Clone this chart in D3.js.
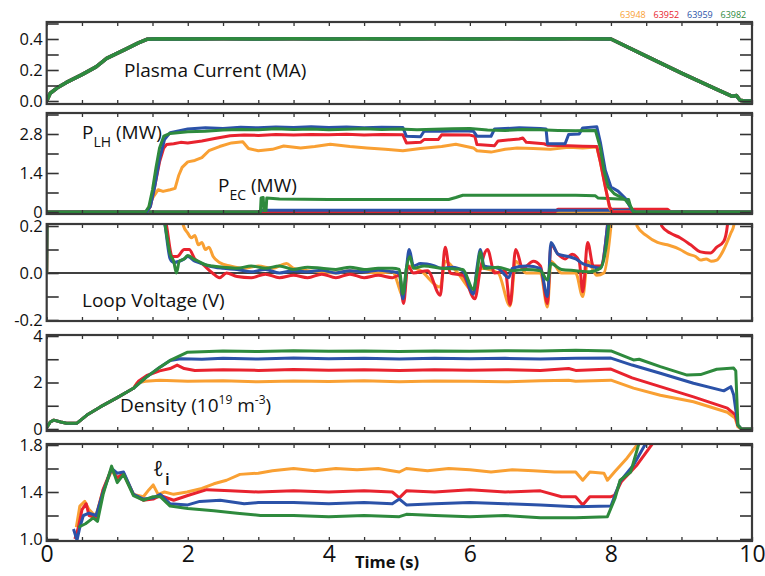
<!DOCTYPE html>
<meta charset="utf-8">
<style>
  body { margin: 0; background: #fff; }
  svg text { font-family: "Open Sans", "DejaVu Sans", sans-serif; fill: #111; }
</style>
<svg width="765" height="576"></svg>
<script src="https://d3js.org/d3.v7.min.js"></script>
<script>
// shots shown in the legend (top right)
const shots = ["63948", "63952", "63959", "63982"]

// plasma current (MA) - all four shots lie on top of each other
const ipAll = [[0,0],[0.05,0.05],[0.15,0.085],[0.28,0.12],[0.5,0.17],[0.7,0.22],[0.85,0.275],[1.1,0.33],[1.3,0.375],[1.42,0.398],[1.6,0.401],[2,0.4],[2.5,0.402],[3,0.4],[3.5,0.401],[4,0.4],[4.5,0.401],[5,0.4],[5.5,0.402],[6,0.4],[6.5,0.401],[7,0.4],[7.5,0.401],[8,0.4],[8.5,0.29],[9,0.18],[9.5,0.075],[9.72,0.03],[9.78,0.035],[9.83,0.005],[9.9,0],[10,0]]

// P_LH (MW)
const plh63948 = [[0,0],[1.42,0],[1.5,0.5],[1.58,0.8],[1.65,0.74],[1.75,0.8],[1.82,0.85],[1.87,1.3],[1.92,1.6],[2.0,1.8],[2.1,1.85],[2.2,1.95],[2.3,2.2],[2.45,2.35],[2.62,2.48],[2.78,2.52],[2.86,2.28],[3.0,2.2],[3.2,2.25],[3.36,2.37],[3.6,2.3],[3.8,2.35],[4.02,2.43],[4.3,2.35],[4.54,2.3],[4.8,2.25],[5.05,2.2],[5.3,2.28],[5.6,2.35],[5.8,2.43],[6.05,2.3],[6.1,2.2],[6.3,2.15],[6.5,2.25],[6.67,2.3],[6.9,2.28],[7.14,2.25],[7.4,2.32],[7.6,2.3],[7.8,2.33],[7.85,1.8],[7.93,0.8],[7.98,0.15],[8.02,0],[10,0]]
const plh63952 = [[0,0],[1.42,0],[1.47,0.2],[1.53,0.9],[1.6,1.8],[1.66,2.3],[1.7,2.42],[1.8,2.45],[1.9,2.5],[2.0,2.48],[2.2,2.55],[2.4,2.65],[2.6,2.74],[2.8,2.76],[3.0,2.75],[3.25,2.78],[3.5,2.76],[3.75,2.78],[4.0,2.77],[4.25,2.79],[4.5,2.76],[4.75,2.78],[5.05,2.77],[5.1,2.48],[5.3,2.5],[5.35,2.6],[5.55,2.6],[5.6,2.77],[6.0,2.76],[6.07,2.72],[6.1,2.42],[6.35,2.38],[6.4,2.55],[6.7,2.62],[6.75,2.66],[6.8,2.5],[7.05,2.45],[7.1,2.4],[7.4,2.38],[7.6,2.36],[7.8,2.35],[7.85,1.8],[7.92,0.9],[7.98,0.2],[8.02,0],[10,0]]
const plh63959 = [[0,0],[1.42,0],[1.47,0.2],[1.53,0.9],[1.6,1.9],[1.67,2.6],[1.75,2.85],[2.0,2.98],[2.25,3.02],[2.5,3.0],[2.75,3.04],[3.0,3.02],[3.25,3.05],[3.5,3.03],[3.75,3.06],[4.0,3.03],[4.25,3.05],[4.5,3.02],[4.75,3.04],[5.05,3.03],[5.1,2.72],[5.3,2.7],[5.35,2.9],[5.6,2.9],[5.9,2.92],[6.05,2.9],[6.1,2.72],[6.3,2.72],[6.35,2.98],[6.7,3.02],[7.0,3.0],[7.08,2.98],[7.1,2.45],[7.35,2.45],[7.4,2.78],[7.55,2.8],[7.6,3.02],[7.8,3.06],[7.85,2.5],[7.92,1.5],[8.0,0.9],[8.1,0.75],[8.2,0.5],[8.3,0.05],[8.35,0],[10,0]]
const plh63982 = [[0,0],[1.4,0],[1.45,0.2],[1.5,0.8],[1.55,1.6],[1.6,2.3],[1.66,2.72],[1.75,2.82],[2.0,2.88],[2.25,2.9],[2.5,2.94],[2.75,2.96],[3.0,2.95],[3.25,2.99],[3.5,2.96],[3.75,2.98],[4.0,2.95],[4.25,2.97],[4.5,2.99],[4.75,2.96],[5.0,2.98],[5.25,2.95],[5.5,2.97],[5.75,2.99],[6.0,3.0],[6.25,2.94],[6.5,2.93],[6.75,2.96],[7.0,2.95],[7.25,2.93],[7.5,2.92],[7.78,2.93],[7.85,2.3],[7.9,1.5],[7.96,0.9],[8.05,0.65],[8.2,0.45],[8.28,0.2],[8.32,0],[10,0]]

// P_EC (MW)
const pec63948 = [[0,0],[10,0]]
const pec63952 = [[0,0],[7.2,0],[7.25,0.1],[8.8,0.1],[8.85,0],[10,0]]
const pec63959 = [[0,0],[3.0,0],[3.05,0.06],[8.3,0.06],[8.35,0.02],[10,0.02]]
const pec63982 = [[0,0],[3.03,0],[3.04,0.5],[3.07,0.52],[3.08,0.05],[3.11,0.05],[3.12,0.5],[3.3,0.47],[4,0.45],[5,0.45],[5.7,0.45],[5.8,0.52],[5.9,0.6],[6.5,0.6],[7,0.6],[7.5,0.6],[7.78,0.58],[7.82,0.5],[8.25,0.45],[8.3,0],[10,0]]

// loop voltage (V), values above 0.2 run off the panel
const vl63948 = [[0,0],[0.02,0.6],[1.8,0.6],[1.94,0.2],[2.0,0.17],[2.05,0.15],[2.1,0.16],[2.15,0.12],[2.2,0.13],[2.25,0.1],[2.3,0.11],[2.36,0.07],[2.45,0.045],[2.6,0.03],[2.8,0.02],[3.0,0.03],[3.2,0.02],[3.4,0.04],[3.5,0.02],[3.7,0.01],[3.9,0.005],[4.1,0.0],[4.3,0.01],[4.5,0.005],[4.7,0.0],[4.9,0.005],[5.06,-0.1],[5.12,0.03],[5.3,0.01],[5.58,-0.06],[5.65,0.05],[5.8,0.01],[6.07,-0.08],[6.15,0.02],[6.4,0.0],[6.57,-0.14],[6.65,0.05],[6.8,0.0],[7.0,0.0],[7.1,-0.145],[7.15,0.05],[7.3,0.0],[7.5,0.0],[7.6,-0.1],[7.67,0.05],[7.8,-0.01],[7.9,0.0],[8.0,0.2],[8.1,0.6],[8.3,0.6],[8.37,0.2],[8.5,0.16],[8.66,0.13],[8.8,0.12],[8.98,0.1],[9.1,0.08],[9.2,0.07],[9.27,0.055],[9.35,0.06],[9.42,0.05],[9.5,0.055],[9.6,0.1],[9.7,0.17],[9.74,0.2],[9.8,0.4],[10,0.6]]
const vl63952 = [[0,0],[0.02,0.6],[1.55,0.6],[1.64,0.3],[1.7,0.2],[1.78,0.07],[1.85,0.07],[1.95,0.1],[2.02,0.1],[2.1,0.06],[2.2,0.04],[2.35,0.0],[2.45,-0.02],[2.55,0.0],[2.7,-0.015],[2.9,-0.02],[3.1,-0.005],[3.3,-0.02],[3.5,-0.01],[3.7,-0.02],[3.9,-0.005],[4.1,-0.02],[4.3,-0.005],[4.5,-0.02],[4.7,-0.01],[4.9,-0.02],[5.0,-0.01],[5.06,-0.13],[5.12,0.03],[5.2,0.0],[5.4,0.01],[5.58,-0.095],[5.65,0.11],[5.72,0.0],[5.9,-0.01],[6.07,-0.11],[6.15,0.02],[6.25,0.1],[6.35,0.0],[6.5,0.01],[6.57,-0.135],[6.65,0.1],[6.75,0.02],[6.9,0.05],[7.0,0.03],[7.1,-0.13],[7.15,0.12],[7.25,0.08],[7.35,0.06],[7.45,0.08],[7.55,0.05],[7.6,-0.08],[7.67,0.13],[7.75,0.03],[7.85,0.03],[7.95,0.2],[8.05,0.6],[8.6,0.6],[8.72,0.2],[8.84,0.17],[8.98,0.15],[9.13,0.12],[9.27,0.09],[9.41,0.085],[9.5,0.11],[9.6,0.135],[9.65,0.2],[9.7,0.4],[10,0.6]]
const vl63959 = [[0,0],[0.02,0.6],[1.55,0.6],[1.63,0.3],[1.68,0.2],[1.75,0.06],[1.8,0.045],[1.88,0.05],[1.95,0.06],[2.0,0.07],[2.1,0.05],[2.2,0.04],[2.3,0.03],[2.5,0.02],[2.7,0.015],[2.9,0.005],[3.1,0.015],[3.3,0.0],[3.5,0.01],[3.7,0.005],[3.9,0.012],[4.1,0.0],[4.3,0.01],[4.5,0.005],[4.7,0.012],[4.9,0.005],[5.0,0.0],[5.05,-0.11],[5.1,0.02],[5.14,0.1],[5.2,0.03],[5.3,0.04],[5.5,0.03],[5.6,0.02],[5.75,0.025],[5.9,0.01],[6.05,-0.09],[6.1,0.02],[6.15,0.1],[6.2,0.03],[6.4,0.02],[6.55,-0.02],[6.6,0.02],[6.8,0.03],[7.0,0.02],[7.1,-0.1],[7.15,0.13],[7.25,0.08],[7.4,0.07],[7.5,0.06],[7.6,0.04],[7.7,0.03],[7.85,0.02],[7.95,0.2],[8.05,0.6],[10,0.6]]
const vl63982 = [[0,0],[0.02,0.6],[1.55,0.6],[1.62,0.3],[1.68,0.2],[1.75,0.08],[1.8,0.05],[1.84,0.0],[1.88,0.05],[1.95,0.06],[2.0,0.075],[2.08,0.06],[2.15,0.05],[2.25,0.035],[2.35,0.03],[2.5,0.025],[2.7,0.02],[2.9,0.03],[3.1,0.02],[3.3,0.03],[3.5,0.015],[3.7,0.025],[3.9,0.02],[4.1,0.015],[4.3,0.025],[4.5,0.015],[4.7,0.02],[4.9,0.02],[5.0,0.015],[5.05,-0.09],[5.1,0.02],[5.15,0.07],[5.2,0.02],[5.35,0.03],[5.6,0.02],[5.9,0.015],[6.05,-0.07],[6.1,0.0],[6.15,0.09],[6.2,0.02],[6.4,0.025],[6.6,0.01],[6.8,0.015],[7.0,0.01],[7.1,-0.03],[7.15,0.04],[7.3,0.015],[7.5,0.01],[7.7,0.005],[7.85,0.02],[7.95,0.15],[8.0,0.3],[8.1,0.6],[10,0.6]]

// line-averaged density (10^19 m^-3); shared start-up ramp
const densRamp = [[0,0.05],[0.05,0.3],[0.1,0.38],[0.2,0.3],[0.28,0.25],[0.43,0.25],[0.57,0.6],[0.76,0.95],[1.0,1.35],[1.23,1.75]]
const dens63948 = densRamp.concat([[1.28,1.98],[1.4,2.05],[1.6,2.1],[2.0,2.05],[2.5,2.08],[3.0,2.03],[3.5,2.06],[4.0,2.04],[4.5,2.07],[5.0,2.03],[5.5,2.06],[6.0,2.05],[6.5,2.03],[7.0,2.07],[7.4,2.1],[7.5,2.05],[8.0,2.1],[8.32,1.76],[8.7,1.45],[9.17,1.17],[9.65,0.72],[9.76,0.47],[9.8,0.1],[9.85,0],[10,0]])
const dens63952 = densRamp.concat([[1.3,2.05],[1.42,2.3],[1.6,2.5],[1.75,2.6],[1.85,2.75],[1.95,2.6],[2.1,2.52],[2.5,2.55],[3.0,2.52],[3.5,2.56],[4.0,2.53],[4.5,2.55],[5.0,2.52],[5.5,2.55],[6.0,2.53],[6.5,2.55],[7.0,2.52],[7.4,2.6],[7.5,2.52],[8.0,2.58],[8.3,2.2],[8.7,1.82],[9.17,1.38],[9.65,0.9],[9.76,0.62],[9.8,0.15],[9.85,0],[10,0]])
const dens63959 = densRamp.concat([[1.4,2.2],[1.6,2.65],[1.75,2.95],[1.9,3.02],[2.2,3.0],[2.5,3.04],[3.0,3.01],[3.5,3.05],[4.0,3.02],[4.5,3.04],[5.0,3.01],[5.5,3.04],[6.0,3.02],[6.5,3.04],[7.0,3.01],[7.5,3.04],[8.0,3.05],[8.3,2.75],[8.7,2.4],[9.17,1.97],[9.6,1.64],[9.7,1.82],[9.74,1.47],[9.8,0.17],[9.85,0],[10,0]])
const dens63982 = densRamp.concat([[1.4,2.2],[1.6,2.65],[1.75,2.95],[1.99,3.3],[2.2,3.32],[2.5,3.36],[3.0,3.33],[3.5,3.37],[4.0,3.34],[4.5,3.36],[5.0,3.33],[5.5,3.36],[6.0,3.34],[6.5,3.37],[7.0,3.35],[7.5,3.39],[8.0,3.36],[8.32,2.97],[8.4,3.0],[8.7,2.68],[9.08,2.32],[9.27,2.34],[9.5,2.57],[9.74,2.62],[9.77,2.5],[9.8,0.17],[9.85,0],[10,0]])

// internal inductance li
const li63948 = [[0.42,1.1],[0.47,1.28],[0.54,1.32],[0.6,1.25],[0.65,1.22],[0.7,1.2],[0.8,1.42],[0.92,1.58],[1.0,1.52],[1.09,1.55],[1.23,1.38],[1.37,1.36],[1.45,1.42],[1.51,1.46],[1.58,1.38],[1.67,1.4],[1.8,1.38],[1.99,1.4],[2.2,1.43],[2.37,1.47],[2.55,1.5],[2.74,1.55],[3.0,1.56],[3.2,1.58],[3.5,1.6],[3.8,1.58],[4.1,1.6],[4.4,1.59],[4.7,1.6],[5.0,1.57],[5.1,1.6],[5.4,1.58],[5.7,1.6],[6.0,1.59],[6.3,1.57],[6.6,1.59],[6.9,1.58],[7.2,1.57],[7.5,1.57],[7.6,1.5],[7.7,1.57],[7.9,1.56],[7.95,1.5],[8.05,1.57],[8.23,1.69],[8.37,1.8],[8.6,2.0]]
const li63952 = [[0.4,1.0],[0.45,1.1],[0.5,1.25],[0.56,1.3],[0.6,1.2],[0.7,1.18],[0.8,1.42],[0.92,1.6],[1.0,1.52],[1.09,1.56],[1.23,1.38],[1.37,1.33],[1.51,1.34],[1.61,1.37],[1.8,1.33],[2.0,1.37],[2.27,1.42],[2.6,1.41],[3.0,1.4],[3.5,1.41],[4.0,1.4],[4.5,1.41],[4.9,1.4],[5.0,1.35],[5.1,1.41],[5.5,1.4],[6.0,1.42],[6.5,1.4],[7.0,1.41],[7.3,1.36],[7.5,1.36],[7.6,1.29],[7.7,1.36],[8.0,1.36],[8.05,1.37],[8.15,1.49],[8.37,1.63],[8.6,1.82],[8.8,2.0]]
const li63959 = [[0.38,1.085],[0.43,0.99],[0.47,1.1],[0.52,1.2],[0.6,1.22],[0.7,1.2],[0.8,1.4],[0.92,1.6],[1.0,1.56],[1.09,1.57],[1.23,1.38],[1.37,1.34],[1.51,1.35],[1.61,1.38],[1.75,1.3],[2.0,1.29],[2.17,1.32],[2.46,1.33],[2.8,1.3],[3.0,1.31],[3.5,1.31],[4.0,1.3],[4.5,1.31],[4.9,1.3],[5.0,1.34],[5.1,1.29],[5.5,1.3],[6.0,1.31],[6.5,1.3],[7.0,1.29],[7.5,1.275],[8.0,1.28],[8.13,1.49],[8.32,1.63],[8.5,1.82],[8.7,2.0]]
const li63982 = [[0.45,1.1],[0.55,1.13],[0.66,1.18],[0.72,1.15],[0.8,1.38],[0.92,1.62],[1.0,1.48],[1.09,1.55],[1.23,1.37],[1.37,1.33],[1.51,1.36],[1.61,1.36],[1.75,1.28],[2.0,1.26],[2.37,1.24],[2.7,1.22],[3.03,1.2],[3.5,1.2],[4.0,1.19],[4.5,1.2],[5.0,1.19],[5.1,1.21],[5.5,1.2],[6.0,1.19],[6.5,1.2],[7.0,1.18],[7.5,1.18],[7.95,1.19],[8.06,1.35],[8.13,1.5],[8.28,1.57],[8.4,1.82],[8.6,2.0]]

// tick values / labels
const timeTicks = [0, 2, 4, 6, 8, 10]
const ipTicks = ["0.0", "0.2", "0.4"], ipMinor = [0.1, 0.3, 0.5]
const pTicks = ["0", "1.4", "2.8"], pMinor = [0.7, 2.1, 3.5]
const vTicks = ["-0.2", "0.0", "0.2"], vMinor = [-0.1, 0.1]
const nTicks = ["0", "2", "4"], nMinor = [1, 3]
const liTicks = ["1.0", "1.4", "1.8"], liMinor = [1.2, 1.6]

const colour = { "63948": "#f9a033", "63952": "#e8232e", "63959": "#2b52a8", "63982": "#2e8a3d" }

const svg = d3.select("svg")
const x = d3.scaleLinear().domain([0, 10]).range([46.7, 752])

// each panel: box top/bottom and two reference values -> pixel rows
const panels = [
  { top: 22, bottom: 104, dom: [0, 0.4], rng: [101, 39], ticks: ipTicks, minor: ipMinor,
    series: [[ipAll, "63948"], [ipAll, "63952"], [ipAll, "63959"], [ipAll, "63982"]], width: 3.5 },
  { top: 113, bottom: 214, dom: [0, 2.8], rng: [212, 134], ticks: pTicks, minor: pMinor,
    series: [[pec63948, "63948"], [pec63952, "63952"], [pec63959, "63959"], [pec63982, "63982"],
             [plh63948, "63948"], [plh63952, "63952"], [plh63959, "63959"], [plh63982, "63982"]], width: 3 },
  { top: 224, bottom: 321, dom: [-0.2, 0.2], rng: [320, 226], ticks: vTicks, minor: vMinor,
    series: [[vl63948, "63948"], [vl63952, "63952"], [vl63959, "63959"], [vl63982, "63982"]], width: 3, zero: true, smooth: true },
  { top: 335, bottom: 431, dom: [0, 4], rng: [429, 336], ticks: nTicks, minor: nMinor,
    series: [[dens63948, "63948"], [dens63952, "63952"], [dens63959, "63959"], [dens63982, "63982"]], width: 3 },
  { top: 444, bottom: 541, dom: [1.0, 1.8], rng: [539, 445], ticks: liTicks, minor: liMinor,
    series: [[li63948, "63948"], [li63952, "63952"], [li63959, "63959"], [li63982, "63982"]], width: 3 }
]

const halfSec = d3.range(0, 10.01, 0.5)

panels.forEach((p, i) => {
  const y = d3.scaleLinear().domain(p.dom).range(p.rng)
  const g = svg.append("g")

  g.append("clipPath").attr("id", "clip" + i)
    .append("rect").attr("x", x(0)).attr("y", p.top).attr("width", x(10) - x(0)).attr("height", p.bottom - p.top)

  if (p.zero) {
    g.append("line").attr("x1", x(0)).attr("x2", x(10)).attr("y1", y(0)).attr("y2", y(0))
      .attr("stroke", "#000").attr("stroke-width", 1.4)
  }

  const line = d3.line().x(d => x(d[0])).y(d => y(d[1]))
  if (p.smooth) line.curve(d3.curveMonotoneX)
  g.append("g").attr("clip-path", "url(#clip" + i + ")")
    .selectAll("path").data(p.series).enter().append("path")
    .attr("d", d => line(d[0]))
    .attr("fill", "none")
    .attr("stroke", d => colour[d[1]])
    .attr("stroke-width", p.width)
    .attr("stroke-linejoin", "round")

  // y axes, ticks pointing inward on both sides
  const major = p.ticks.map(Number)
  const left = d3.axisLeft(y).tickValues(major.concat(p.minor)).tickSize(-12).tickPadding(4)
    .tickFormat(v => { const k = major.indexOf(v); return k >= 0 ? p.ticks[k] : "" })
  const ga = g.append("g").attr("transform", `translate(${x(0)},0)`).call(left)
  ga.select(".domain").remove()
  ga.selectAll("line").attr("stroke", "#333").attr("stroke-width", 1.6)
  ga.selectAll("text").attr("font-size", 16.5).attr("fill", "#111")

  const right = d3.axisRight(y).tickValues(major.concat(p.minor)).tickSize(-12).tickFormat("")
  const gr = g.append("g").attr("transform", `translate(${x(10)},0)`).call(right)
  gr.select(".domain").remove()
  gr.selectAll("line").attr("stroke", "#333").attr("stroke-width", 1.6)

  // time ticks at top and bottom of every panel
  const tt = d3.axisTop(x).tickValues(halfSec).tickSize(-4).tickFormat("")
  const gt = g.append("g").attr("transform", `translate(0,${p.top})`).call(tt)
  const tb = d3.axisBottom(x).tickValues(halfSec).tickSize(-4).tickFormat("")
  const gb = g.append("g").attr("transform", `translate(0,${p.bottom})`).call(tb)
  ;[gt, gb].forEach(a => {
    a.select(".domain").remove()
    a.selectAll("line").attr("stroke", "#333").attr("stroke-width", 1.3)
  })

  // frame
  g.append("rect").attr("x", x(0)).attr("y", p.top).attr("width", x(10) - x(0)).attr("height", p.bottom - p.top)
    .attr("fill", "none").attr("stroke", "#3a3a3a").attr("stroke-width", 2.2)

  if (i === panels.length - 1) {
    const lab = d3.axisBottom(x).tickValues(timeTicks).tickSize(0).tickPadding(5).tickFormat(d3.format("d"))
    const gl = g.append("g").attr("transform", `translate(0,${p.bottom})`).call(lab)
    gl.select(".domain").remove()
    gl.selectAll("text").attr("font-size", 23).attr("fill", "#111")
  }
})

// panel annotations
function label(xp, yp, parts) {
  const t = svg.append("text").attr("x", xp).attr("y", yp).attr("font-size", 19)
  parts.forEach(q => {
    const s = t.append("tspan").text(q[0])
    if (q[1] === "sub") s.attr("font-size", 14).attr("dy", 8)
    if (q[1] === "sup") s.attr("font-size", 12).attr("dy", -8)
    if (q[1] === "base") s.attr("dy", q[2])
  })
  return t
}
label(124, 77, [["Plasma Current (MA)"]])
label(82, 139, [["P"], ["LH", "sub"], [" (MW)", "base", -8]])
label(218, 192, [["P"], ["EC", "sub"], [" (MW)", "base", -8]])
label(82, 307, [["Loop Voltage (V)"]])
label(120, 412, [["Density (10"], ["19", "sup"], [" m", "base", 8], ["-3", "sup"], [")", "base", 8]])
svg.append("text").attr("x", 153).attr("y", 476).attr("font-size", 21).attr("font-style", "italic").text("ℓ")
svg.append("text").attr("x", 165).attr("y", 485).attr("font-size", 17).attr("font-weight", 600).text("i")

svg.append("text").attr("x", 387).attr("y", 568).attr("text-anchor", "middle")
  .attr("font-size", 16.5).attr("font-weight", 700).text("Time (s)")

// legend
svg.selectAll(".leg").data(shots).enter().append("text")
  .attr("class", "leg")
  .attr("x", (d, k) => 620 + k * 33.5).attr("y", 18)
  .attr("font-size", 9)
  .style("fill", d => colour[d])
  .text(d => d)
</script>
